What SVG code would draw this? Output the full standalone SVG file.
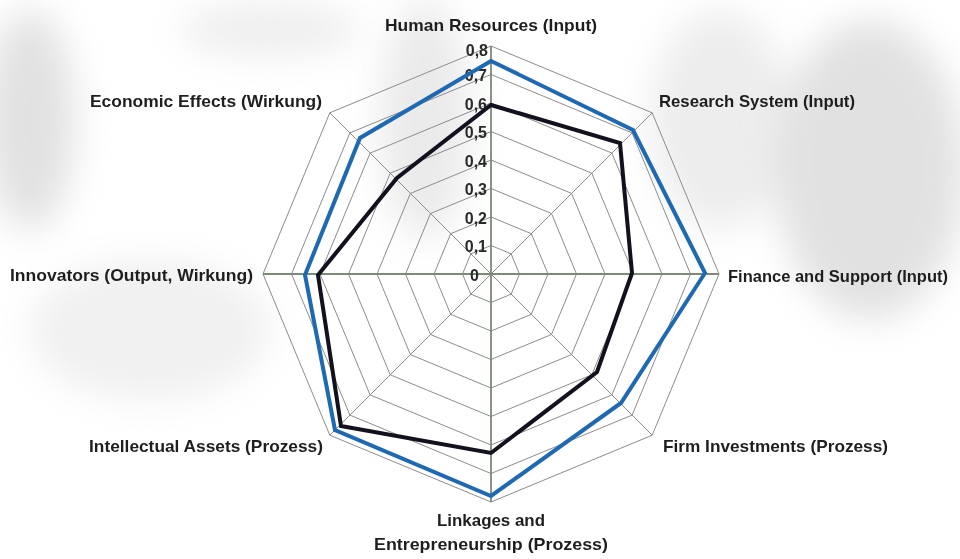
<svg xmlns="http://www.w3.org/2000/svg" width="960" height="559" viewBox="0 0 960 559">
<defs>
<filter id="blur" x="-30%" y="-30%" width="160%" height="160%"><feGaussianBlur stdDeviation="18"/></filter>
<style>
.lbl{font-family:"Liberation Sans",Arial,sans-serif;font-weight:bold;font-size:17px;fill:#1e1e1e}
.tick{font-family:"Liberation Sans",Arial,sans-serif;font-weight:bold;font-size:16px;fill:#2a2a2a;text-anchor:end}
.grid{fill:none;stroke:#8c8c8c;stroke-width:1}
.spoke{stroke:#8c8c8c;stroke-width:1}
.axis{stroke:#7c8a76;stroke-width:1.8}
.s-blue{fill:none;stroke:#1f69b3;stroke-width:4;stroke-linejoin:miter}
.s-black{fill:none;stroke:#12121e;stroke-width:4;stroke-linejoin:miter}
</style>
</defs>
<rect width="960" height="559" fill="#ffffff"/>
<g id="background" filter="url(#blur)" fill="#bdbdbd" opacity="0.45">
<ellipse cx="870" cy="170" rx="95" ry="150"/>
<ellipse cx="720" cy="120" rx="70" ry="110" opacity="0.6"/>
<ellipse cx="425" cy="120" rx="45" ry="120" opacity="0.7"/>
<ellipse cx="30" cy="120" rx="45" ry="110"/>
<ellipse cx="270" cy="30" rx="90" ry="25" opacity="0.6"/>
<ellipse cx="150" cy="330" rx="120" ry="70" opacity="0.5"/>
</g>
<g id="grid" transform="translate(491,274)">
<polygon class="grid" points="0,-28.5 20.15,-20.15 28.5,0 20.15,20.15 0,28.5 -20.15,20.15 -28.5,0 -20.15,-20.15"/>
<polygon class="grid" points="0,-57 40.3,-40.3 57,0 40.3,40.3 0,57 -40.3,40.3 -57,0 -40.3,-40.3"/>
<polygon class="grid" points="0,-85.5 60.5,-60.5 85.5,0 60.5,60.5 0,85.5 -60.5,60.5 -85.5,0 -60.5,-60.5"/>
<polygon class="grid" points="0,-114 80.6,-80.6 114,0 80.6,80.6 0,114 -80.6,80.6 -114,0 -80.6,-80.6"/>
<polygon class="grid" points="0,-142.5 100.8,-100.8 142.5,0 100.8,100.8 0,142.5 -100.8,100.8 -142.5,0 -100.8,-100.8"/>
<polygon class="grid" points="0,-171 120.9,-120.9 171,0 120.9,120.9 0,171 -120.9,120.9 -171,0 -120.9,-120.9"/>
<polygon class="grid" points="0,-199.5 141.1,-141.1 199.5,0 141.1,141.1 0,199.5 -141.1,141.1 -199.5,0 -141.1,-141.1"/>
<polygon class="grid" points="0,-228 161.2,-161.2 228,0 161.2,161.2 0,228 -161.2,161.2 -228,0 -161.2,-161.2"/>
<line class="spoke" x1="0" y1="0" x2="161.2" y2="-161.2"/>
<line class="spoke" x1="0" y1="0" x2="161.2" y2="161.2"/>
<line class="spoke" x1="0" y1="0" x2="-161.2" y2="161.2"/>
<line class="spoke" x1="0" y1="0" x2="-161.2" y2="-161.2"/>
<line class="axis" x1="-228" y1="0" x2="228" y2="0"/>
<line class="axis" x1="0" y1="-228" x2="0" y2="228"/>
</g>
<g id="ticks">
<text class="tick" x="488" y="56">0,8</text>
<text class="tick" x="487" y="81">0,7</text>
<text class="tick" x="487" y="110">0,6</text>
<text class="tick" x="487" y="138">0,5</text>
<text class="tick" x="487" y="167">0,4</text>
<text class="tick" x="487" y="195">0,3</text>
<text class="tick" x="487" y="224">0,2</text>
<text class="tick" x="487" y="252">0,1</text>
<text class="tick" x="479" y="281">0</text>
</g>
<g id="connectors">
<polygon id="series-blue" class="s-blue" points="491,61 633,130 705,273 621,403 491,496 335,430 305,275 360,138"/>
<polygon id="series-black" class="s-black" points="491,105 620,143 632,273 597,372 491,453 341,426 318,275 397,178"/>
</g>
<g id="node-human-resources"><text class="lbl" x="385" y="31" textLength="212" lengthAdjust="spacingAndGlyphs">Human Resources (Input)</text></g>
<g id="node-research-system"><text class="lbl" x="659" y="107" textLength="196" lengthAdjust="spacingAndGlyphs">Research System (Input)</text></g>
<g id="node-finance"><text class="lbl" x="728" y="282" textLength="220" lengthAdjust="spacingAndGlyphs">Finance and Support (Input)</text></g>
<g id="node-firm-investments"><text class="lbl" x="663" y="452" textLength="225" lengthAdjust="spacingAndGlyphs">Firm Investments (Prozess)</text></g>
<g id="node-linkages"><text class="lbl" x="437" y="526" textLength="108" lengthAdjust="spacingAndGlyphs">Linkages and</text><text class="lbl" x="374" y="550" textLength="234" lengthAdjust="spacingAndGlyphs">Entrepreneurship (Prozess)</text></g>
<g id="node-intellectual-assets"><text class="lbl" x="89" y="452" textLength="234" lengthAdjust="spacingAndGlyphs">Intellectual Assets (Prozess)</text></g>
<g id="node-innovators"><text class="lbl" x="10" y="281" textLength="243" lengthAdjust="spacingAndGlyphs">Innovators (Output, Wirkung)</text></g>
<g id="node-economic-effects"><text class="lbl" x="90" y="107" textLength="232" lengthAdjust="spacingAndGlyphs">Economic Effects (Wirkung)</text></g>
</svg>
